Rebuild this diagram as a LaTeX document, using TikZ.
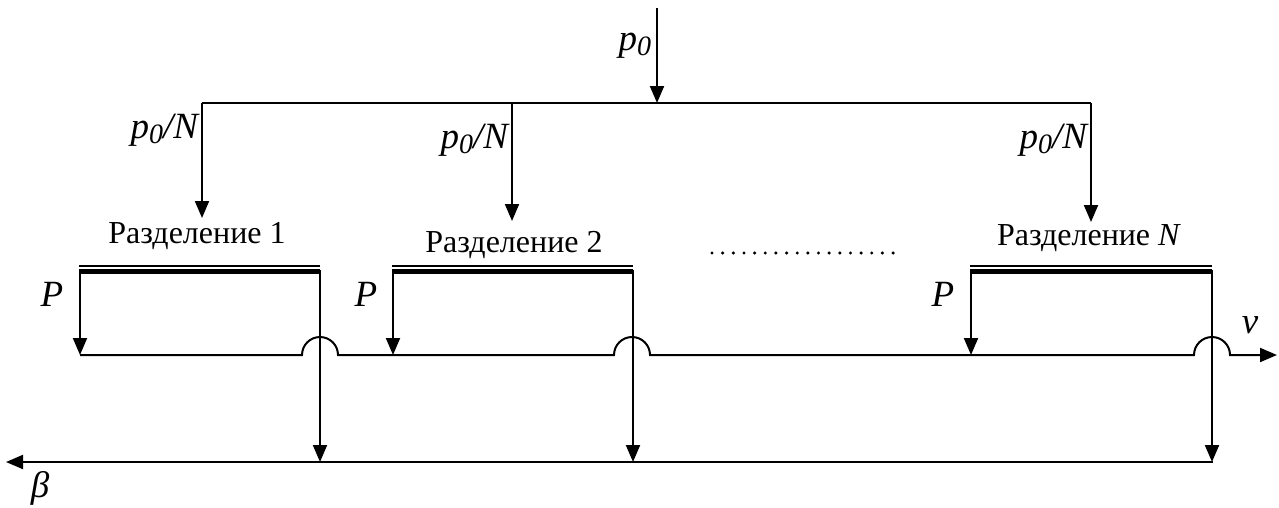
\documentclass[tikz,border=0pt]{standalone}
\usepackage{fontspec}
\setmainfont{Liberation Serif}
\usetikzlibrary{arrows.meta,calc}
\newcommand{\pzero}{\textit{p}\raisebox{-5pt}{\fontsize{28}{28}\selectfont\textit{0}}}
\begin{document}
\begin{tikzpicture}[x=1pt,y=-1pt,
  line width=2pt,
  >={Triangle[length=17pt,width=14pt]},
  txt/.style={font=\fontsize{32}{36}\selectfont, inner sep=0pt},
  ital/.style={font=\fontsize{37}{40}\selectfont\itshape, inner sep=0pt},
  thinbar/.style={line width=1.5pt},
  thickbar/.style={line width=5pt},
  dotmark/.style={circle, fill=black, inner sep=0pt, minimum size=3.4pt}]
\useasboundingbox (0,0) rectangle (1279,507);

% top input
\coordinate (ptop) at (657,8);
\coordinate (pbus) at (657,103);
\coordinate (b1) at (202,103);
\coordinate (b2) at (512,103);
\coordinate (bN) at (1091,103);
\coordinate (d1) at (202,218);
\coordinate (d2) at (512,221);
\coordinate (dN) at (1091,222);
\draw[->] (ptop) -- (pbus);
\draw (b1) -- (bN);
\draw[->] (b1) -- (d1);
\draw[->] (b2) -- (d2);
\draw[->] (bN) -- (dN);
\node[ital, anchor=base east] (lp0) at (652,50) {\pzero};
\node[ital, anchor=base east] (lq1) at (199,138) {\pzero/N};
\node[ital, anchor=base east] (lq2) at (509,148) {\pzero/N};
\node[ital, anchor=base east] (lqN) at (1088,148) {\pzero/N};

% section titles
\node[txt, anchor=base] (t1) at (197,243) {Разделение 1};
\node[txt, anchor=base] (t2) at (514,252) {Разделение 2};
\node[txt, anchor=base] (tN) at (1089,245) {Разделение \textit{N}};
\foreach \i in {0,...,17}{
  \node[dotmark] (dot\i) at (712+10.65*\i,253) {};
}

% blocks: left x, right x
\foreach \n/\l/\r in {1/79/320, 2/392/633, N/970/1212}{
  \coordinate (tl\n) at (\l,266);
  \coordinate (tr\n) at (\r,266);
  \coordinate (kl\n) at (\l,271);
  \coordinate (kr\n) at (\r,271);
  \coordinate (sl\n) at (\l+1,355);
  \coordinate (sr\n) at (\r,462);
  \draw[thinbar] (tl\n) -- (tr\n);
  \draw[thickbar] (kl\n) -- (kr\n);
  \draw[->] ($(kl\n)+(1,0)$) -- (sl\n);
  \draw[->] ($(kr\n)+(0,-1)$) -- (sr\n);
}

% main v line with hops
\coordinate (vstart) at (80,355);
\coordinate (vend) at (1277,355);
\draw[->] (vstart) -- (302,355) arc[start angle=180, end angle=360, radius=18]
  -- (614,355) arc[start angle=180, end angle=360, radius=18]
  -- (1194,355) arc[start angle=180, end angle=360, radius=18]
  -- (vend);
\node[ital, anchor=base] (lv) at (1250,333) {v};

% beta line
\coordinate (bstart) at (1213,462);
\coordinate (bend) at (6,462);
\draw[->] (bstart) -- (bend);
\node[ital, anchor=base] (lb) at (40,497) {β};

% P labels
\node[ital, anchor=base] (P1) at (52,306) {P};
\node[ital, anchor=base] (P2) at (366,306) {P};
\node[ital, anchor=base] (PN) at (943,306) {P};
\end{tikzpicture}
\end{document}
